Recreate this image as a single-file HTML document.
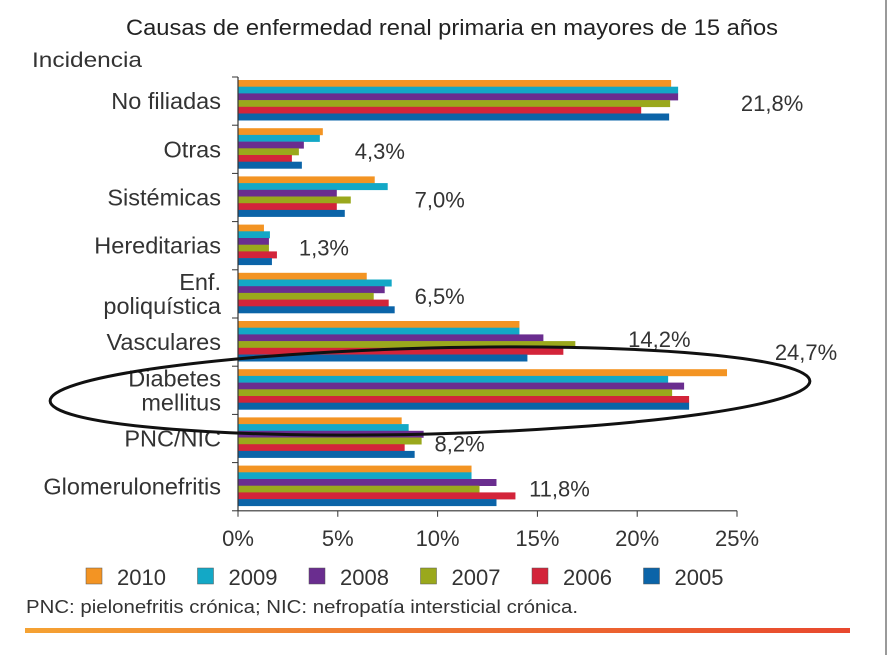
<!DOCTYPE html>
<html><head><meta charset="utf-8"><style>
body{margin:0;background:#fff;}
svg{display:block;font-family:"Liberation Sans",sans-serif;}
</style></head><body>
<svg id="chart" width="889" height="655">
<rect x="885" y="0" width="2" height="655" fill="#9a9a9a"/>
<text x="126" y="35" font-size="22" textLength="652" lengthAdjust="spacingAndGlyphs" fill="#222">Causas de enfermedad renal primaria en mayores de 15 años</text>
<text x="32" y="67" font-size="21" textLength="110" lengthAdjust="spacingAndGlyphs" fill="#333">Incidencia</text>
<g id="bars"></g>
<g id="axes"></g>
<ellipse cx="430" cy="391" rx="380" ry="43" transform="rotate(-1.5 430 391)" fill="none" stroke="#111" stroke-width="3"/>
<g id="legend"></g>
<text x="26" y="613" font-size="18" textLength="552" lengthAdjust="spacingAndGlyphs" fill="#333">PNC: pielonefritis crónica; NIC: nefropatía intersticial crónica.</text>
<defs><linearGradient id="g" x1="0" x2="1"><stop offset="0" stop-color="#f5a233"/><stop offset="1" stop-color="#e8482e"/></linearGradient></defs>
<rect x="25" y="628" width="825" height="5" fill="url(#g)"/>
</svg>
<script>
const categories=["No filiadas","Otras","Sistémicas","Hereditarias","Enf.|poliquística","Vasculares","Diabetes|mellitus","PNC/NIC","Glomerulonefritis"];
const years=["2010","2009","2008","2007","2006","2005"];
const colors=["#f39423","#13a8c6","#6a2d8f","#9aa81c","#d3243a","#0b64a8"];
const s2010=[21.7,4.25,6.85,1.3,6.45,14.1,24.5,8.2,11.7];
const s2009=[22.05,4.1,7.5,1.6,7.7,14.1,21.55,8.55,11.7];
const s2008=[22.05,3.3,4.95,1.55,7.35,15.3,22.35,9.3,12.95];
const s2007=[21.65,3.05,5.65,1.55,6.8,16.9,21.75,9.2,12.1];
const s2006=[20.2,2.7,4.95,1.95,7.55,16.3,22.6,8.35,13.9];
const s2005=[21.6,3.2,5.35,1.7,7.85,14.5,22.6,8.85,12.95];
const series=[s2010,s2009,s2008,s2007,s2006,s2005];
const totals=["21,8%","4,3%","7,0%","1,3%","6,5%","14,2%","24,7%","8,2%","11,8%"];
const ticks=[0,5,10,15,20,25];
const NS="http://www.w3.org/2000/svg";
const x0=238,pxPer=19.96,yTop=77,band=48.2,barH=6.7;
const xs=v=>x0+v*pxPer;
const lblDx=[94,57,52,47,45,84,79,36,44];
const lblDy=[34,34,34,34,34,29,-6,37,34];
function mk(t,a,p){const e=document.createElementNS(NS,t);for(const k in a)e.setAttribute(k,a[k]);p.appendChild(e);return e;}
const bars=document.getElementById('bars'),axes=document.getElementById('axes'),leg=document.getElementById('legend');
categories.forEach((c,i)=>{
  const gy=yTop+i*band;
  let maxV=0;
  series.forEach((s,j)=>{
    const r=mk('rect',{x:x0,y:gy+3+j*barH,width:xs(s[i])-x0,height:barH+0.3,fill:colors[j]},bars);
    
    
    maxV=Math.max(maxV,s[i]);
  });
  const parts=c.split('|');
  parts.forEach((p,k)=>{
    const t=mk('text',{x:221,y:gy+band/2+8+(k-(parts.length-1)/2)*24,'text-anchor':'end','font-size':23.5,fill:'#333'},axes);
    t.textContent=p;
    
    
  });
  const vl=mk('text',{x:xs(maxV)+lblDx[i],y:gy+lblDy[i],'font-size':22,fill:'#333','text-anchor':'middle'},bars);
  vl.textContent=totals[i];
  
  
  const tk=mk('line',{x1:x0-6,x2:x0,y1:gy,y2:gy,stroke:'#333','stroke-width':1},axes);
  
  
});
const yB=yTop+categories.length*band;
mk('line',{x1:x0,x2:x0,y1:yTop,y2:yB,stroke:'#333','stroke-width':1.2},axes);
mk('line',{x1:x0-6,x2:x0,y1:yB,y2:yB,stroke:'#333'},axes);
mk('line',{x1:x0,x2:xs(25),y1:yB,y2:yB,stroke:'#333','stroke-width':1.2},axes);
ticks.forEach(v=>{
  const l=mk('line',{x1:xs(v),x2:xs(v),y1:yB,y2:yB+6,stroke:'#333'},axes);
  
  
  const t=mk('text',{x:xs(v),y:yB+35,'text-anchor':'middle','font-size':22,fill:'#333'},axes);
  t.textContent=v+'%';
  
  
});
years.forEach((y,j)=>{
  const lx=86+j*111.5;
  const r=mk('rect',{x:lx,y:568,width:16,height:16,fill:colors[j],stroke:'#555','stroke-width':0.5},leg);
  
  
  const t=mk('text',{x:lx+31,y:585,'font-size':22,fill:'#333'},leg);
  t.textContent=y;
  
  
});
</script>
</body></html>
